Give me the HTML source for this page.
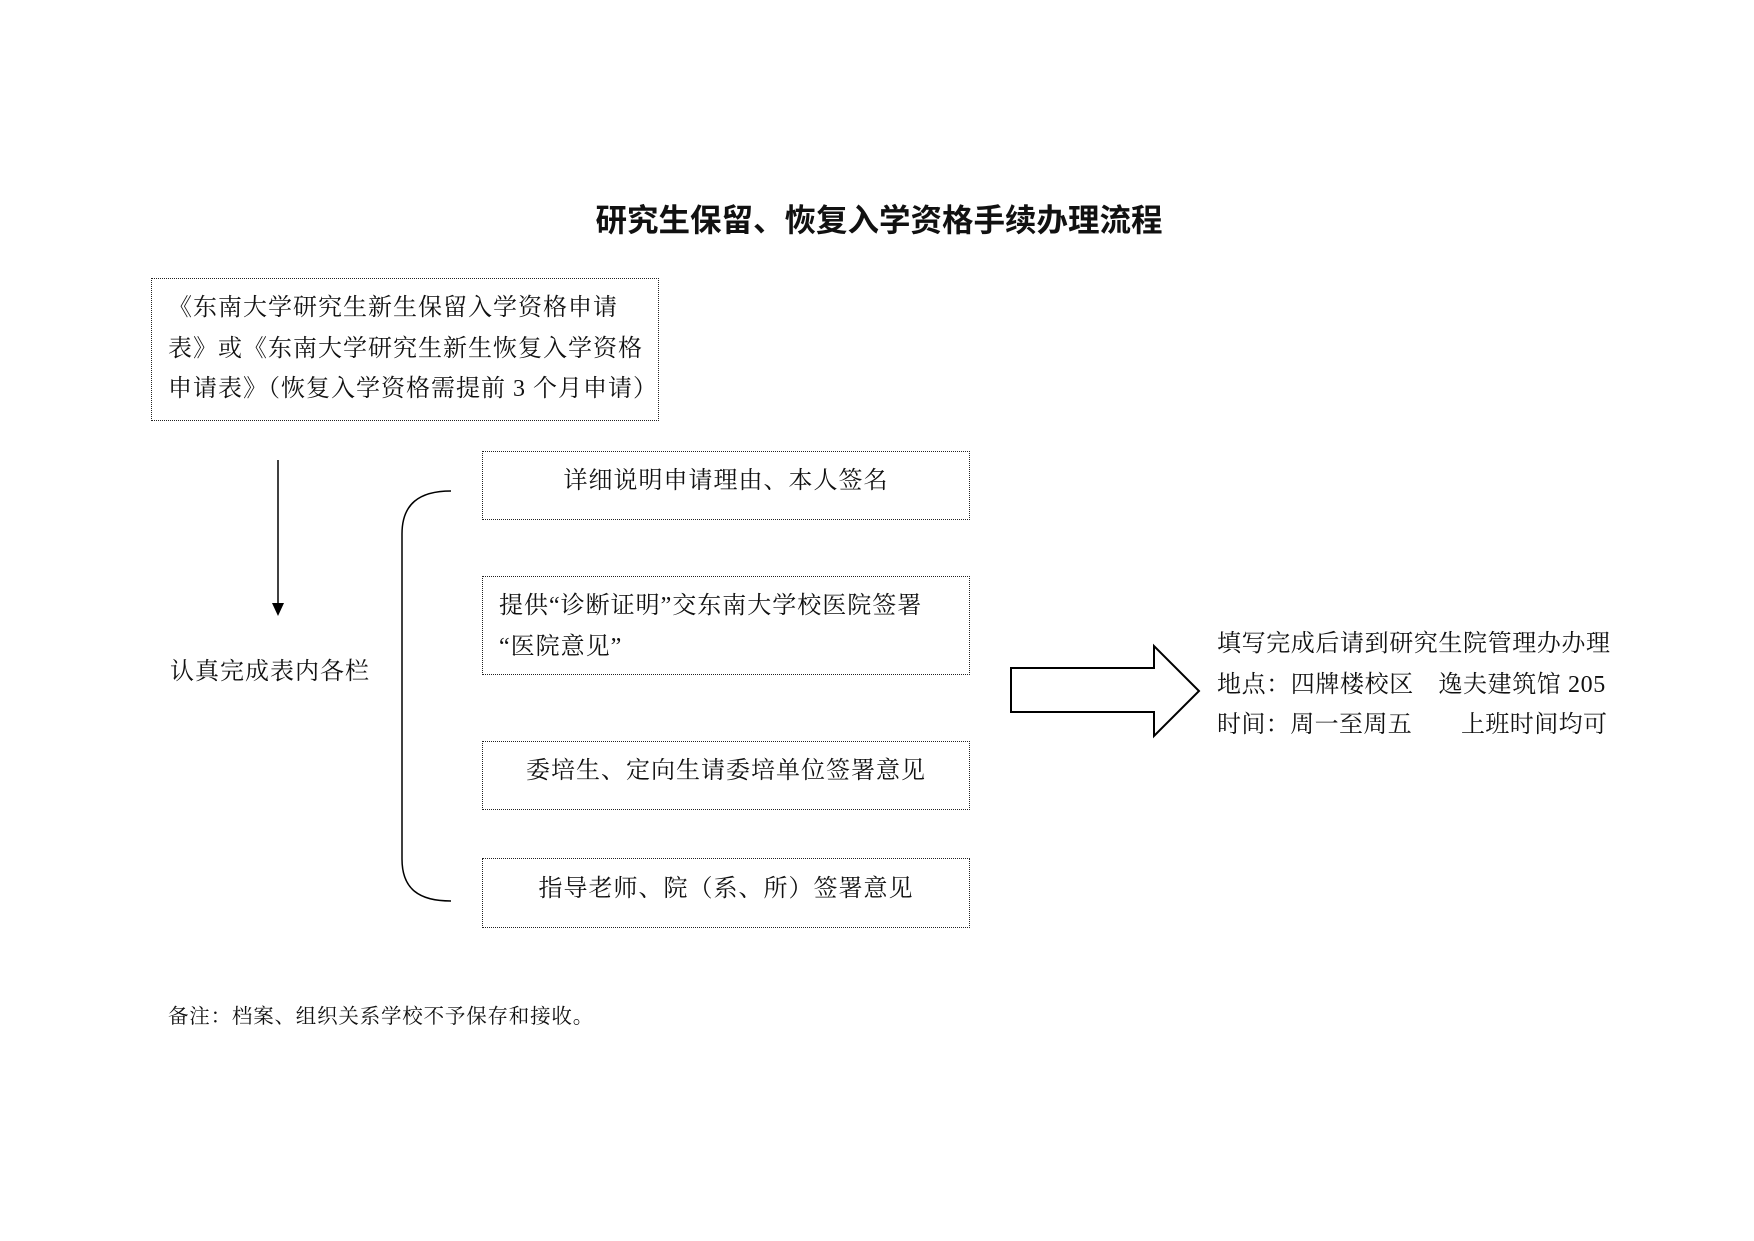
<!DOCTYPE html>
<html><head><meta charset="utf-8"><style>
body{margin:0;width:1754px;height:1241px;background:#fff;position:relative;overflow:hidden;font-family:"Liberation Serif","Noto Serif CJK SC",serif;color:#111}
.t{position:absolute;white-space:nowrap;font-size:24px;letter-spacing:1px;line-height:1}
.b{position:absolute;border:1.3px dotted #222;box-sizing:border-box}
</style></head><body>
<div class="t" style="left:0;width:1758px;text-align:center;top:205px;font-size:31.5px;letter-spacing:0;font-weight:bold;font-family:'Liberation Sans','Noto Sans CJK SC',sans-serif">研究生保留、恢复入学资格手续办理流程</div>
<div class="b" style="left:151px;top:278px;width:508px;height:143px"></div>
<div class="t" style="left:168px;top:296px">《东南大学研究生新生保留入学资格申请</div>
<div class="t" style="left:168px;top:337px">表》或《东南大学研究生新生恢复入学资格</div>
<div class="t" style="left:168px;top:377px">申请表》（恢复入学资格需提前 3 个月申请）</div>
<svg style="position:absolute;left:0;top:0" width="1754" height="1241">
<line x1="278" y1="460" x2="278" y2="605" stroke="#000" stroke-width="1.5"/>
<polygon points="272,603 284,603 278,616" fill="#000"/>
<path d="M451,491 C419,491 402,504 402,534 L402,859 C402,889 419,901 451,901" fill="none" stroke="#000" stroke-width="1.5"/>
<polygon points="1011,668 1154,668 1154,646 1199,691 1154,736 1154,712 1011,712" fill="#fff" stroke="#000" stroke-width="2"/>
</svg>
<div class="t" style="left:170px;top:660px">认真完成表内各栏</div>
<div class="b" style="left:482px;top:451px;width:488px;height:69px"></div>
<div class="t" style="left:482px;width:488px;text-align:center;top:469px">详细说明申请理由、本人签名</div>
<div class="b" style="left:482px;top:576px;width:488px;height:99px"></div>
<div class="t" style="left:499px;top:594px">提供“诊断证明”交东南大学校医院签署</div>
<div class="t" style="left:499px;top:635px">“医院意见”</div>
<div class="b" style="left:482px;top:741px;width:488px;height:69px"></div>
<div class="t" style="left:482px;width:488px;text-align:center;top:759px">委培生、定向生请委培单位签署意见</div>
<div class="b" style="left:482px;top:858px;width:488px;height:70px"></div>
<div class="t" style="left:482px;width:488px;text-align:center;top:877px">指导老师、院（系、所）签署意见</div>
<div class="t" style="left:1217px;top:632px;letter-spacing:0.6px">填写完成后请到研究生院管理办办理</div>
<div class="t" style="left:1217px;top:673px;letter-spacing:0.6px">地点：四牌楼校区　逸夫建筑馆 205</div>
<div class="t" style="left:1217px;top:713px;letter-spacing:0.4px">时间：周一至周五　　上班时间均可</div>
<div class="t" style="left:168px;top:1007px;font-size:20.5px;letter-spacing:0.8px">备注：档案、组织关系学校不予保存和接收。</div>
</body></html>
